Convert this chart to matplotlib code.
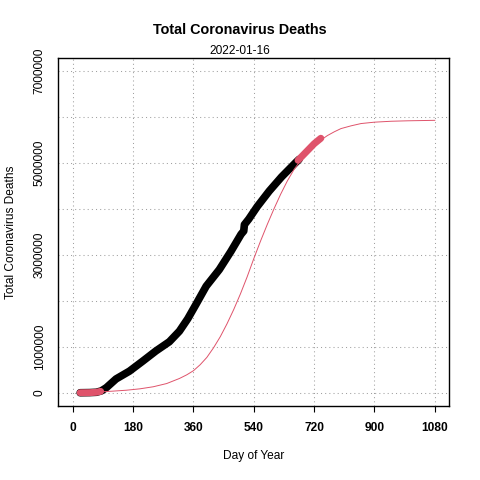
import numpy as np
import matplotlib
matplotlib.use("Agg")
import matplotlib.pyplot as plt

plt.rcParams['font.family'] = ['Liberation Sans', 'DejaVu Sans']

# observed cumulative deaths (millions) by day
obs_days = [22, 50, 70, 85, 100, 129, 169, 209, 248, 288, 318, 343, 368, 398,
            437, 472, 502, 510, 512, 525, 550, 586, 623, 665, 675]
obs_vals = [0.0, 0.003, 0.01, 0.04, 0.11, 0.30, 0.47, 0.69, 0.91, 1.11, 1.34,
            1.61, 1.93, 2.32, 2.68, 3.08, 3.45, 3.52, 3.66, 3.78, 4.05, 4.39,
            4.70, 5.01, 5.08]

# highlighted windows (red)
early_days = [22, 50, 70, 83]
early_vals = [0.0, 0.002, 0.01, 0.03]
late_days = [672, 700, 720, 740]
late_vals = [5.06, 5.27, 5.42, 5.54]

# fitted curve (millions)
fit_days = [85, 120, 160, 200, 240, 280, 318, 340, 360, 380, 400, 420, 440,
            460, 480, 500, 520, 540, 560, 580, 600, 620, 640, 660, 680, 700,
            720, 740, 760, 780, 800, 830, 860, 900, 950, 1000, 1080]
fit_vals = [0.02, 0.035, 0.055, 0.085, 0.13, 0.20, 0.31, 0.39, 0.48, 0.61,
            0.77, 0.98, 1.22, 1.50, 1.81, 2.15, 2.52, 2.92, 3.30, 3.66, 4.00,
            4.32, 4.61, 4.86, 5.06, 5.23, 5.38, 5.50, 5.60, 5.68, 5.75, 5.81,
            5.86, 5.89, 5.91, 5.92, 5.93]

x_ticks = [0, 180, 360, 540, 720, 900, 1080]
y_ticks = [0, 1000000, 3000000, 5000000, 7000000]
y_grid = [0, 1e6, 2e6, 3e6, 4e6, 5e6, 6e6, 7e6]

red = '#DF536B'
M = 1e6

fig = plt.figure(figsize=(4.8, 4.8), dpi=100)
ax = fig.add_axes([0.1215, 0.155, 0.8145, 0.7235])

# dotted grid, like R's grid()
for g in x_ticks:
    ax.axvline(g, color='#A0A0A0', lw=0.75, ls=(0, (1, 3)), zorder=0)
for g in y_grid:
    ax.axhline(g, color='#A0A0A0', lw=0.75, ls=(0, (1, 3)), zorder=0)

ax.plot(obs_days, np.array(obs_vals) * M, color='black', lw=5.5,
        solid_capstyle='round', solid_joinstyle='round', zorder=2)
ax.plot(early_days, np.array(early_vals) * M, color=red, lw=5,
        solid_capstyle='round', zorder=3)
ax.plot(late_days, np.array(late_vals) * M, color=red, lw=5,
        solid_capstyle='round', zorder=3)
ax.plot(fit_days, np.array(fit_vals) * M, color=red, lw=0.7, zorder=4)

ax.set_xlim(-43.2, 1123.2)
ax.set_ylim(-280000, 7280000)

ax.set_xticks(x_ticks)
ax.set_xticklabels([str(t) for t in x_ticks], fontweight='bold', fontsize=8.6)
ax.tick_params(axis='x', length=4.5, width=0.8, pad=7)
ax.set_yticks(y_ticks)
ax.set_yticklabels([str(t) for t in y_ticks], rotation=90, va='center',
                   fontsize=8.6)
ax.tick_params(axis='y', length=0, pad=9)

for s in ax.spines.values():
    s.set_linewidth(1.0)

ax.set_xlabel("Day of Year", fontsize=8.6, labelpad=12)
ax.set_ylabel("Total Coronavirus Deaths", fontsize=8.6, labelpad=12)

fig.text(0.5, 1 - 30 / 480, "Total Coronavirus Deaths", ha='center',
         va='center', fontsize=10.4, fontweight='bold')
fig.text(0.5, 1 - 51 / 480, "2022-01-16", ha='center', va='center',
         fontsize=8.6)

fig.savefig("out.png", dpi=100)
